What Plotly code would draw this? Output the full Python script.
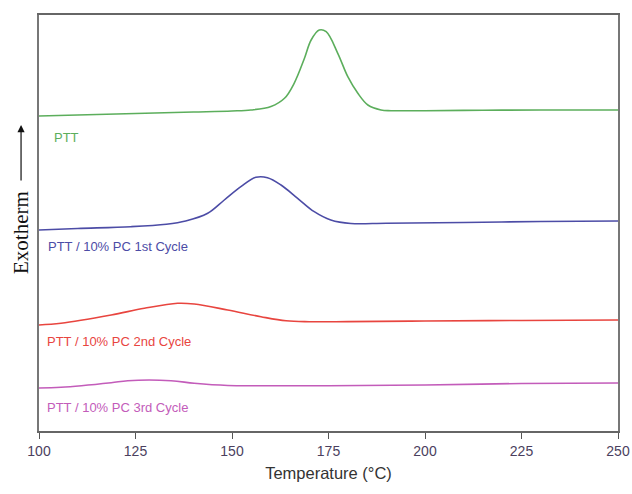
import plotly.graph_objects as go

# Temperature (°C) and heat flow (arbitrary units, exotherm up) for each DSC trace
t_ptt = [100, 110, 120, 130, 140, 150, 154.9, 160.1, 163.6, 166.1, 168.7, 170.5, 172.6, 174.4, 177.4, 180, 182.6, 185.2, 188.6, 191.2, 200, 215, 230, 250]
h_ptt = [315, 316, 317, 318, 319, 320, 321, 324.5, 332.7, 347.7, 372, 391, 401, 399.3, 377.7, 354.3, 337.7, 326, 321, 320.3, 320.3, 320.8, 321, 321]

t_c1 = [100, 110, 123.8, 133, 138, 143.7, 148, 152.3, 156.2, 159.2, 162.7, 167, 171.3, 175.6, 180.8, 190, 210, 230, 250]
h_c1 = [201, 202.5, 204.3, 206.8, 210, 217.7, 231, 244.3, 253.7, 253.3, 246, 232.7, 219.3, 211, 207.5, 207.8, 208.5, 209.5, 210]

t_c2 = [100, 105.7, 118.7, 127.3, 135.9, 140.2, 148.9, 157.5, 164, 170, 180, 200, 225, 250]
h_c2 = [106, 107.7, 116, 122.7, 127.7, 127, 121, 114.3, 110.2, 109.3, 109.4, 110, 110.5, 111]

t_c3 = [100, 105.7, 118.7, 123, 134.2, 140.2, 148.9, 160, 175, 200, 225, 250]
h_c3 = [43, 43.7, 48.3, 50.3, 50.3, 47.7, 45.5, 45.3, 45.3, 46, 47.5, 48]

series_names = ["PTT", "PTT / 10% PC 1st Cycle", "PTT / 10% PC 2nd Cycle", "PTT / 10% PC 3rd Cycle"]
x_ticks = [100, 125, 150, 175, 200, 225, 250]

colors = ["#5cae5c", "#4c4ca6", "#e8453f", "#c35cba"]
series = [(t_ptt, h_ptt), (t_c1, h_c1), (t_c2, h_c2), (t_c3, h_c3)]

fig = go.Figure()
for (t, h), name, c in zip(series, series_names, colors):
    fig.add_trace(go.Scatter(x=t, y=h, mode="lines", name=name,
                             line=dict(color=c, width=1.6, shape="spline", smoothing=1.0)))

# curve labels
label_pos = [(103.3, 294), (101.9, 185), (101.6, 90), (101.6, 24)]
for (lx, ly), name, c in zip(label_pos, series_names, colors):
    fig.add_annotation(x=lx, y=ly, xref="x", yref="y", text=name, showarrow=False,
                       xanchor="left", yanchor="middle",
                       font=dict(family="Liberation Sans, Arial", size=13, color=c))

# y-axis title with arrow
fig.add_annotation(x=-0.031, y=0.476, xref="paper", yref="paper", text="Exotherm",
                   textangle=-90, showarrow=False, xanchor="center", yanchor="middle",
                   font=dict(family="Liberation Serif, Times New Roman", size=21, color="#111"))
fig.add_annotation(x=-0.031, y=0.7356, xref="paper", yref="paper", text="",
                   showarrow=True, ax=0, ay=57, arrowhead=2, arrowsize=1.2,
                   arrowwidth=1.2, arrowcolor="#111")

fig.update_layout(
    width=632, height=494,
    margin=dict(l=39, r=14, t=15, b=63, autoexpand=False),
    paper_bgcolor="white", plot_bgcolor="white",
    showlegend=False,
    xaxis=dict(range=[100, 250], tickvals=x_ticks, ticks="outside", ticklen=6,
               tickcolor="#555", showline=True, linecolor="#666", linewidth=1.5,
               mirror=True, showgrid=False, zeroline=False, automargin=False,
               tickfont=dict(family="Liberation Sans, Arial", size=14, color="#4b3f5e"),
               title=dict(text="Temperature (°C)", standoff=10,
                          font=dict(family="Liberation Sans, Arial", size=16.5, color="#333"))),
    yaxis=dict(range=[0, 416], showticklabels=False, ticks="", showline=True, automargin=False,
               linecolor="#777", linewidth=1.5, mirror=True, showgrid=False, zeroline=False),
)

fig.write_html("out.html", config={"displayModeBar": False},
               post_script="document.body.style.margin='0px';")
